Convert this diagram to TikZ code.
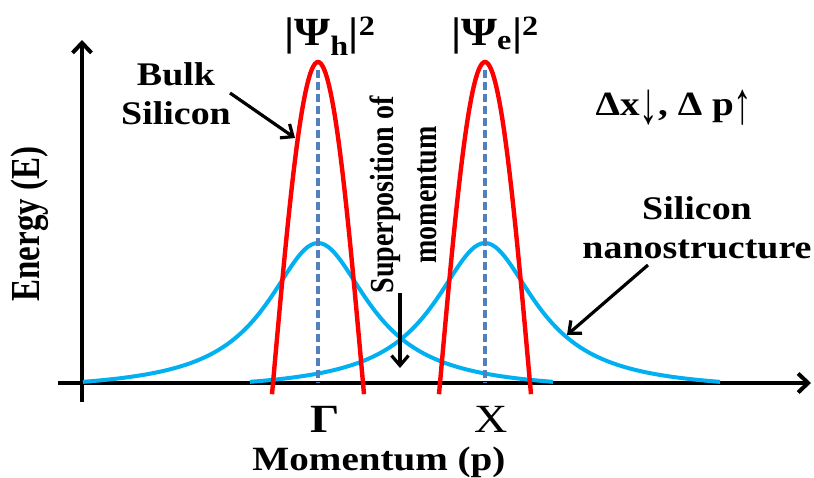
\documentclass[tikz,border=0pt]{standalone}
\usepackage{graphicx}
\usepackage{fontspec}
\setmainfont{Liberation Serif}
\newfontfamily\wide[FakeStretch=1.15]{Liberation Serif}
\usetikzlibrary{arrows.meta}
\definecolor{redc}{RGB}{255,0,0}
\definecolor{bluec}{RGB}{0,176,240}
\definecolor{dashc}{RGB}{79,129,189}
\newcommand{\thinarr}[1]{{\mdseries\fontsize{34}{40}\selectfont\raisebox{-8pt}{\scalebox{0.95}[1.75]{#1}}}}
\begin{document}
\begin{tikzpicture}[x=1pt,y=-1pt,
  axis/.style={line width=4pt,-{Straight Barb[length=10pt,width=19pt,line width=4pt]}},
  ann/.style={line width=3.2pt,-{Straight Barb[length=10pt,width=17pt,line width=3.2pt]}},
  redcurve/.style={redc,line width=4.4pt},
  bluecurve/.style={bluec,line width=4pt},
  guide/.style={dashc,line width=3.4pt,dash pattern=on 8pt off 4pt},
  lab/.style={font=\wide\bfseries\fontsize{33}{39}\selectfont,align=center,inner sep=0pt},
  big/.style={font=\wide\bfseries\fontsize{40}{46}\selectfont,inner sep=0pt},
  bigr/.style={font=\wide\fontsize{40}{46}\selectfont,inner sep=0pt},
  ]
\useasboundingbox (0,0) rectangle (814,477);
% axes
\coordinate (yb) at (82,402);
\coordinate (yt) at (82,40);
\coordinate (xl) at (58,383);
\coordinate (xr) at (811,383);
\draw[axis] (yb) -- (yt);
\draw[axis] (xl) -- (xr);
% blue curves
\draw[bluecurve] plot[domain=-235:235,samples=141,smooth] ({318+\x},{383-(148.5/(1+(\x/62)*(\x/62))-8.5)});
\draw[bluecurve] plot[domain=-235:235,samples=141,smooth] ({485+\x},{383-(148.5/(1+(\x/62)*(\x/62))-8.5)});
% red curves
\draw[redcurve] plot[domain=-46:46,samples=61,smooth] ({318+\x},{383-321*cos(2*\x)});
\draw[redcurve] plot[domain=-46:46,samples=61,smooth] ({485+\x},{383-321*cos(2*\x)});
% dashed guides
\coordinate (gh1) at (318,70);
\coordinate (gh2) at (318,383);
\coordinate (ge1) at (485,70);
\coordinate (ge2) at (485,383);
\draw[guide] (gh1) -- (gh2);
\draw[guide] (ge1) -- (ge2);
% labels
\node[big,anchor=base] (psih) at (330,45) {|Ψ\textsubscript{h}|\textsuperscript{2}};
\node[big,anchor=base] (psie) at (495,45) {|Ψ\textsubscript{e}|\textsuperscript{2}};
\node[lab] (bulk) at (176,94) {Bulk\\Silicon};
\node[lab] (nano) at (697,228) {Silicon\\nanostructure};
\node[lab,anchor=base,font=\wide\bfseries\fontsize{34}{40}\selectfont] (delta) at (674,115) {Δx\thinarr{↓}, Δ p\thinarr{↑}};
\node[big,anchor=base] (gamma) at (325,432) {Γ};
\node[bigr,anchor=base] (xpt) at (491,432) {X};
\node[lab,anchor=base,font=\wide\bfseries\fontsize{34}{40}\selectfont] (mom) at (379,470) {Momentum (p)};
\node[inner sep=0pt] (energy) at (30,224) {\scalebox{1.25}[1]{\rotatebox{90}{\bfseries\fontsize{33}{39}\selectfont Energy (E)}}};
\node[inner sep=0pt] (super) at (406,195) {\scalebox{1.2}[1]{\rotatebox{90}{\bfseries\fontsize{28}{36}\selectfont\begin{tabular}{@{}c@{}}Superposition of\\momentum\end{tabular}}}};
% annotation arrows
\coordinate (bulkA) at (230,93);
\coordinate (bulkB) at (295,138);
\coordinate (nanoA) at (648,265);
\coordinate (nanoB) at (567,335);
\coordinate (supA) at (400,293);
\coordinate (supB) at (400,368);
\draw[ann] (bulkA) -- (bulkB);
\draw[ann] (nanoA) -- (nanoB);
\draw[ann] (supA) -- (supB);
\end{tikzpicture}
\end{document}
